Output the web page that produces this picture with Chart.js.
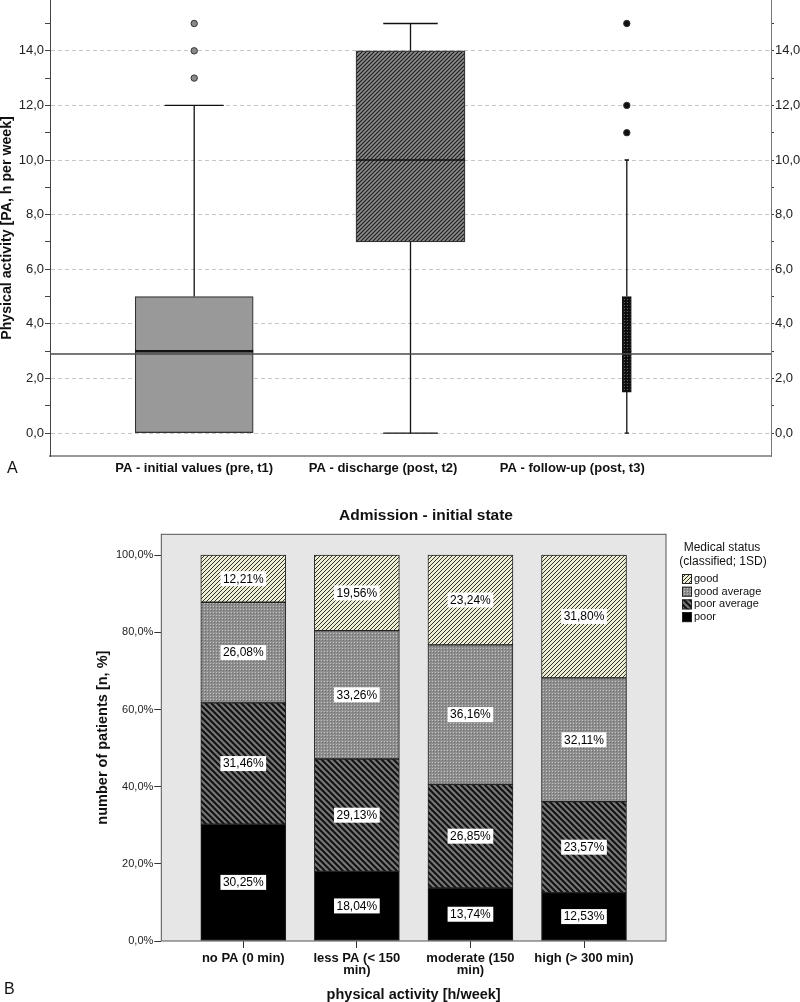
<!DOCTYPE html>
<html>
<head>
<meta charset="utf-8">
<script src="https://cdn.jsdelivr.net/npm/chart.js@4.4.1/dist/chart.umd.min.js"></script>
<style>
  html, body { margin: 0; padding: 0; background: #fff; overflow: hidden; }
  body { width: 800px; height: 1002px; position: relative; }
  canvas { position: absolute; left: 0; }
  #boxChart { top: -10px; }
  #barChart { top: 480px; }
</style>
</head>
<body>
<canvas id="boxChart" width="800" height="495"></canvas>
<canvas id="barChart" width="800" height="522"></canvas>
<script>
// ---- Panel A: physical activity box plots ----
const phases = ['PA - initial values (pre, t1)', 'PA - discharge (post, t2)', 'PA - follow-up (post, t3)'];
const whiskerLow = [0, 0, 0];
const q1 = [0, 7, 1.5];
const median = [3, 10, 3];
const q3 = [5, 14, 5];
const whiskerHigh = [12, 15, 10];
const outliers = [[13, 14, 15], [], [11, 12, 15]];
const referenceLine = 2.9;

// ---- Panel B: medical status by activity level ----
const activity = [['no PA (0 min)'], ['less PA (< 150', 'min)'], ['moderate (150', 'min)'], ['high (> 300 min)']];
const statuses = ['poor', 'poor average', 'good average', 'good'];
const poor = [30.25, 18.04, 13.74, 12.53];
const poorAverage = [31.46, 29.13, 26.85, 23.57];
const goodAverage = [26.08, 33.26, 36.16, 32.11];
const good = [12.21, 19.56, 23.24, 31.80];

Chart.defaults.font.family = '"Liberation Sans", Arial, sans-serif';
Chart.defaults.animation = false;

// fill patterns (SPSS style)
const patCtx = document.createElement('canvas').getContext('2d');
function hatch(bg, fg, size, width, dir) {
  const c = document.createElement('canvas');
  c.width = c.height = size;
  const g = c.getContext('2d');
  g.fillStyle = bg;
  g.fillRect(0, 0, size, size);
  g.strokeStyle = fg;
  g.lineWidth = width;
  g.beginPath();
  if (dir === '/') {
    g.moveTo(-1, size + 1); g.lineTo(size + 1, -1);
    g.moveTo(-1, 1); g.lineTo(1, -1);
    g.moveTo(size - 1, size + 1); g.lineTo(size + 1, size - 1);
  } else {
    g.moveTo(-1, -1); g.lineTo(size + 1, size + 1);
    g.moveTo(size - 1, -1); g.lineTo(size + 1, 1);
    g.moveTo(-1, size - 1); g.lineTo(1, size + 1);
  }
  g.stroke();
  return patCtx.createPattern(c, 'repeat');
}
function dots(bg, light, dark) {
  const c = document.createElement('canvas');
  c.width = c.height = 3;
  const g = c.getContext('2d');
  g.fillStyle = bg;
  g.fillRect(0, 0, 3, 3);
  g.fillStyle = light;
  g.fillRect(0, 0, 1, 1);
  g.fillStyle = dark;
  g.fillRect(1, 1, 1, 1);
  return patCtx.createPattern(c, 'repeat');
}

const boxStyles = [
  { width: 118, fill: '#999999', border: '#333', median: 2.5 },
  { width: 109, fill: hatch('#8c8c8c', '#1a1a1a', 4, 1.1, '/'), border: '#333', median: 1.5 },
  { width: 9, fill: dots('#111', '#666', '#000'), border: '#111', median: 1 }
];

const axisTick = v => v % 2 === 0 ? v.toFixed(1).replace('.', ',') : '';

const boxExtras = {
  id: 'boxExtras',
  afterDatasetsDraw(chart) {
    const { ctx, chartArea, scales: { x, y } } = chart;
    ctx.save();
    phases.forEach((p, i) => {
      const cx = x.getPixelForValue(i + 1);
      const half = boxStyles[i].width / 2;
      const cap = half / 2;
      const yLo = y.getPixelForValue(whiskerLow[i]);
      const yHi = y.getPixelForValue(whiskerHigh[i]);
      ctx.strokeStyle = '#111';
      ctx.lineWidth = 1.3;
      ctx.beginPath();
      if (whiskerLow[i] < q1[i]) {
        ctx.moveTo(cx, y.getPixelForValue(q1[i])); ctx.lineTo(cx, yLo);
        ctx.moveTo(cx - cap, yLo); ctx.lineTo(cx + cap, yLo);
      }
      ctx.moveTo(cx, y.getPixelForValue(q3[i])); ctx.lineTo(cx, yHi);
      ctx.moveTo(cx - cap, yHi); ctx.lineTo(cx + cap, yHi);
      ctx.stroke();
      const ym = y.getPixelForValue(median[i]);
      ctx.lineWidth = boxStyles[i].median;
      ctx.beginPath();
      ctx.moveTo(cx - half, ym); ctx.lineTo(cx + half, ym);
      ctx.stroke();
    });
    // reference line across the plot
    const yr = y.getPixelForValue(referenceLine);
    ctx.strokeStyle = '#4a4a4a';
    ctx.lineWidth = 1.5;
    ctx.beginPath();
    ctx.moveTo(chartArea.left, yr); ctx.lineTo(chartArea.right, yr);
    ctx.stroke();
    ctx.restore();
  },
  afterDraw(chart) {
    const ctx = chart.ctx;
    ctx.save();
    ctx.font = '16px "Liberation Sans", Arial, sans-serif';
    ctx.fillStyle = '#111';
    ctx.textBaseline = 'middle';
    ctx.fillText('A', 7, 479);
    ctx.restore();
  }
};

new Chart(document.getElementById('boxChart'), {
  type: 'bar',
  data: {
    datasets: [
      ...phases.map((p, i) => ({
        label: p,
        data: [{ x: i + 1, y: [q1[i], q3[i]] }],
        backgroundColor: boxStyles[i].fill,
        borderColor: boxStyles[i].border,
        borderWidth: 1.2,
        borderSkipped: false,
        grouped: false,
        maxBarThickness: boxStyles[i].width,
        barPercentage: 1,
        categoryPercentage: 1
      })),
      {
        type: 'scatter',
        label: 'outliers',
        data: outliers.flatMap((vals, i) => vals.map(v => ({ x: i + 1, y: v }))),
        pointBackgroundColor: c => (c.raw && c.raw.x === 1) ? '#8a8a8a' : '#111',
        pointBorderColor: '#333',
        pointBorderWidth: 1,
        pointRadius: 3.2
      }
    ]
  },
  options: {
    responsive: false,
    layout: { padding: { top: 10, left: 0, right: 0, bottom: 0 } },
    plugins: { legend: { display: false }, tooltip: { enabled: false } },
    scales: {
      x: {
        type: 'linear',
        offset: false,
        min: 1 / 3,
        max: 11 / 3,
        afterBuildTicks: s => { s.ticks = [1, 1.873, 2.748].map(v => ({ value: v })); },
        afterFit: s => { s.height = 29; },
        ticks: {
          callback: (v, i) => phases[i],
          autoSkip: false,
          maxRotation: 0,
          padding: 5,
          color: '#111',
          font: { size: 13, weight: 'bold' }
        },
        grid: { display: false, drawTicks: false, offset: false },
        border: { color: '#999', width: 2 }
      },
      y: {
        position: 'left',
        min: -0.84,
        max: 15.86,
        afterFit: s => { s.width = 50; },
        ticks: { stepSize: 1, includeBounds: false, callback: axisTick, padding: 1, color: '#222', font: { size: 13 } },
        grid: {
          color: c => (c.tick && c.tick.value % 2 === 0) ? '#c6c6c6' : 'rgba(0,0,0,0)',
          tickColor: '#444',
          tickLength: 5,
          tickBorderDash: []
        },
        border: { color: '#444', width: 1, dash: [4, 3] },
        title: {
          display: true,
          text: 'Physical activity [PA, h per week]',
          color: '#111',
          padding: 0,
          font: { size: 14.2, weight: 'bold', lineHeight: 1 }
        }
      },
      y2: {
        position: 'right',
        min: -0.84,
        max: 15.86,
        afterFit: s => { s.width = 29; },
        ticks: { stepSize: 1, includeBounds: false, callback: axisTick, padding: 1, color: '#222', font: { size: 13 } },
        grid: { drawOnChartArea: false, tickColor: '#444', tickLength: 3 },
        border: { color: '#777', width: 1 }
      }
    }
  },
  plugins: [boxExtras]
});

// ---- Panel B chart ----
const series = [poor, poorAverage, goodAverage, good];
const statusFills = [
  '#000000',
  hatch('#767676', '#111', 6, 2, '\\'),
  dots('#8e8e8e', '#c4c4c4', '#6e6e6e'),
  hatch('#ededd2', '#333', 4, 1, '/')
];

const barExtras = {
  id: 'barExtras',
  beforeDraw(chart) {
    const { ctx, chartArea: a } = chart;
    ctx.save();
    ctx.fillStyle = '#e6e6e6';
    ctx.fillRect(a.left, a.top, a.right - a.left, a.bottom - a.top);
    ctx.restore();
  },
  afterDatasetsDraw(chart) {
    const { ctx, chartArea: a } = chart;
    ctx.save();
    ctx.strokeStyle = '#555';
    ctx.lineWidth = 1;
    ctx.strokeRect(a.left, a.top, a.right - a.left, a.bottom - a.top);
    ctx.font = '12px "Liberation Sans", Arial, sans-serif';
    ctx.textAlign = 'center';
    ctx.textBaseline = 'middle';
    series.forEach((vals, k) => {
      chart.getDatasetMeta(k).data.forEach((bar, i) => {
        const text = vals[i].toFixed(2).replace('.', ',') + '%';
        const yc = (bar.y + bar.base) / 2;
        const w = ctx.measureText(text).width + 5;
        ctx.fillStyle = '#fff';
        ctx.fillRect(bar.x - w / 2, yc - 7.5, w, 15);
        ctx.fillStyle = '#000';
        ctx.fillText(text, bar.x, yc + 0.5);
      });
    });
    ctx.restore();
  },
  afterDraw(chart) {
    const ctx = chart.ctx;
    ctx.save();
    ctx.fillStyle = '#111';
    ctx.textBaseline = 'middle';
    // title
    ctx.textAlign = 'center';
    ctx.font = 'bold 15.5px "Liberation Sans", Arial, sans-serif';
    ctx.fillText('Admission - initial state', 426, 36);
    // legend
    ctx.font = '12px "Liberation Sans", Arial, sans-serif';
    ctx.fillText('Medical status', 722, 68);
    ctx.fillText('(classified; 1SD)', 723, 82);
    ctx.textAlign = 'left';
    ctx.font = '11px "Liberation Sans", Arial, sans-serif';
    const rows = chart.data.datasets.slice().reverse();
    rows.forEach((ds, r) => {
      const yc = 99 + r * 12.7;
      ctx.fillStyle = ds.backgroundColor;
      ctx.fillRect(682, yc - 5, 10, 10);
      ctx.strokeStyle = '#222';
      ctx.lineWidth = 1;
      ctx.strokeRect(682.5, yc - 4.5, 9, 9);
      ctx.fillStyle = '#111';
      ctx.fillText(ds.label, 694, yc);
    });
    // panel letter
    ctx.font = '16px "Liberation Sans", Arial, sans-serif';
    ctx.fillText('B', 4, 510);
    ctx.restore();
  }
};

new Chart(document.getElementById('barChart'), {
  type: 'bar',
  data: {
    datasets: statuses.map((s, k) => ({
      label: s,
      data: series[k].map((v, i) => ({ x: i + 1, y: v })),
      backgroundColor: statusFills[k],
      borderColor: '#222',
      borderWidth: 1,
      borderSkipped: false,
      barThickness: 85
    }))
  },
  options: {
    responsive: false,
    layout: { padding: { top: 54.3, left: 0, right: 134, bottom: 0 } },
    plugins: { legend: { display: false }, tooltip: { enabled: false } },
    scales: {
      x: {
        type: 'linear',
        offset: false,
        stacked: true,
        min: 0.278,
        max: 4.722,
        afterBuildTicks: s => { s.ticks = activity.map((a, i) => ({ value: i + 1 })); },
        afterFit: s => { s.height = 61; },
        ticks: {
          callback: (v, i) => activity[i],
          autoSkip: false,
          maxRotation: 0,
          padding: 4,
          color: '#111',
          font: { size: 13, weight: 'bold', lineHeight: 0.92 }
        },
        grid: { drawOnChartArea: false, offset: false, tickColor: '#333', tickLength: 7 },
        border: { display: false },
        title: {
          display: true,
          text: 'physical activity [h/week]',
          color: '#111',
          padding: { top: 0, bottom: 0 },
          font: { size: 14.5, weight: 'bold', lineHeight: 1 }
        }
      },
      y: {
        stacked: true,
        min: 0,
        max: 105.4,
        afterFit: s => { s.width = 161.3; },
        ticks: {
          stepSize: 20,
          includeBounds: false,
          callback: v => v.toFixed(1).replace('.', ',') + '%',
          padding: 1,
          color: '#222',
          font: { size: 11 }
        },
        grid: { drawOnChartArea: false, tickColor: '#333', tickLength: 7 },
        border: { display: false },
        title: {
          display: true,
          text: 'number of patients [n, %]',
          color: '#111',
          padding: { top: 96, bottom: 0 },
          font: { size: 14.5, weight: 'bold', lineHeight: 1 }
        }
      }
    }
  },
  plugins: [barExtras]
});
</script>
</body>
</html>
